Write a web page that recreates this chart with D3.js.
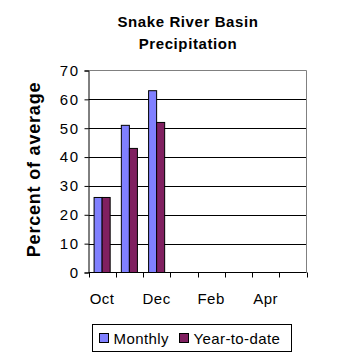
<!DOCTYPE html>
<html><head><meta charset="utf-8">
<script src="https://cdn.jsdelivr.net/npm/d3@7"></script>
<style>body{margin:0;background:#fff}svg{display:block}text{font-family:Arial,"Liberation Sans",sans-serif}</style>
</head><body><svg id="c" width="358" height="358"></svg>
<script>
const months = ["Oct","Nov","Dec","Jan","Feb","Mar","Apr","May"];
const monthLabels = ["Oct","","Dec","","Feb","","Apr",""];
const monthly = [26,51,63,null,null,null,null,null];
const ytd = [26,43,52,null,null,null,null,null];
const yTicks = [0,10,20,30,40,50,60,70];
const seriesNames = ["Monthly","Year-to-date"];
const colors = ["#8080FF","#802060"];

const svg = d3.select("#c");
const L=88.5, R=306.5, T=70.5, B=272.5;
const x = d3.scaleBand().domain(months).range([L,R]).paddingInner(0.41).paddingOuter(0.205);
const xs = d3.scaleBand().domain(seriesNames).range([0,x.bandwidth()]);
const y = d3.scaleLinear().domain([0,70]).range([B,T]);

// gridlines
svg.append("g").selectAll("line").data(yTicks.filter(d=>d>0&&d<70)).join("line")
  .attr("x1",L).attr("x2",R).attr("y1",d=>Math.round(y(d))+0.5).attr("y2",d=>Math.round(y(d))+0.5)
  .attr("stroke","#000");
// plot border top/right gray
svg.append("path").attr("d",`M${L},${T}H${R}V${B}`).attr("fill","none").attr("stroke","#808080");

// bars
const data = months.map((m,i)=>({m,vals:[monthly[i],ytd[i]]}));
const g = svg.append("g");
data.forEach(d=>{
  d.vals.forEach((v,j)=>{
    if(v==null) return;
    g.append("rect")
      .attr("x",x(d.m)+xs(seriesNames[j])).attr("y",y(v))
      .attr("width",xs.bandwidth()).attr("height",B-y(v))
      .attr("fill",colors[j]).attr("stroke","#000").attr("stroke-width",1);
  });
});

// y axis
const ya = svg.append("g").attr("transform",`translate(${L},0)`)
  .call(d3.axisLeft(y).tickValues(yTicks).tickSize(4).tickPadding(6).tickFormat(d3.format("d")));
ya.select(".domain").attr("stroke","#000");
ya.selectAll("text").attr("font-size",15).attr("letter-spacing","1.5px").attr("font-family","Arial, 'Liberation Sans', sans-serif").attr("fill","#000").attr("dx","1");

// x axis
const xa = svg.append("g").attr("transform",`translate(0,${B})`);
xa.append("line").attr("x1",L).attr("x2",R).attr("stroke","#000");
const step = (R-L)/months.length;
const tickPos = d3.range(months.length+1).map(i=>L+i*step);
xa.selectAll(".tk").data(tickPos).join("line").attr("class","tk")
  .attr("x1",d=>Math.round(d)+0.5).attr("x2",d=>Math.round(d)+0.5).attr("y1",0).attr("y2",5).attr("stroke","#000");
xa.selectAll(".lb").data(months).join("text").attr("class","lb")
  .attr("x",(d,i)=>x(d)+x.bandwidth()/2)
  .attr("y",31.5).attr("text-anchor","middle").attr("font-size",15).attr("letter-spacing","0.5px").attr("fill","#000")
  .text((d,i)=>monthLabels[i]);

// title
svg.append("text").attr("x",188).attr("y",27).attr("text-anchor","middle").attr("font-size",15).attr("letter-spacing","0.6px").attr("font-weight","bold").text("Snake River Basin");
svg.append("text").attr("x",188).attr("y",49).attr("text-anchor","middle").attr("font-size",15).attr("letter-spacing","0.6px").attr("font-weight","bold").text("Precipitation");

// y title
svg.append("text").attr("transform","translate(40,169.5) rotate(-90)").attr("text-anchor","middle")
  .attr("font-size",18).attr("letter-spacing","0.8px").attr("font-weight","bold").text("Percent of average");

// legend
const lg = svg.append("g");
lg.append("rect").attr("x",92.5).attr("y",324.5).attr("width",199).attr("height",27).attr("fill","#fff").attr("stroke","#000");
const lx = [99.5,179.5];
seriesNames.forEach((s,i)=>{
  lg.append("rect").attr("x",lx[i]).attr("y",333.5).attr("width",9).attr("height",9).attr("fill",colors[i]).attr("stroke","#000");
  lg.append("text").attr("x",lx[i]+14).attr("y",344).attr("font-size",15).attr("letter-spacing","0.4px").text(s);
});
</script></body></html>
